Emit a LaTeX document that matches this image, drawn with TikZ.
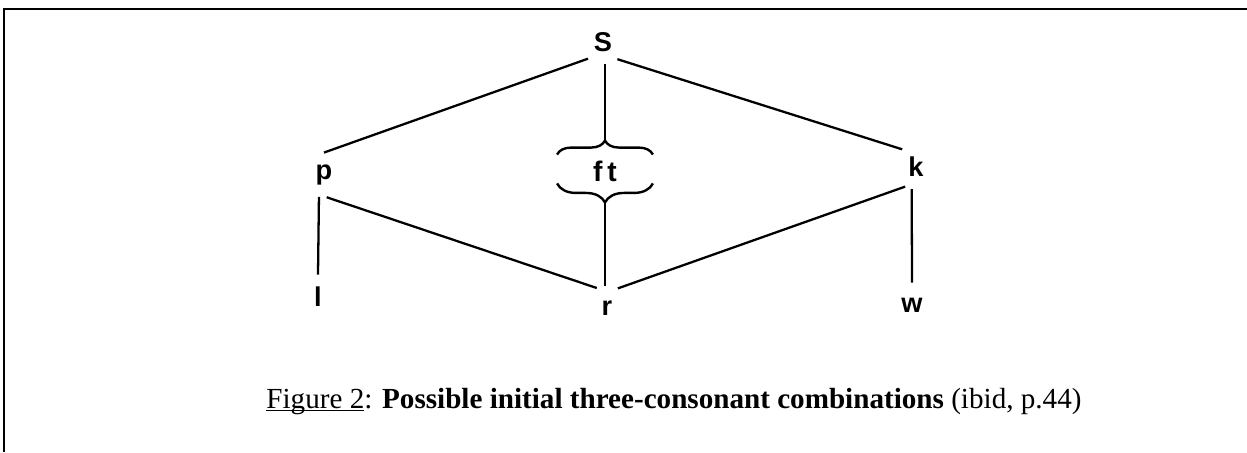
\documentclass[tikz,border=0pt]{standalone}
\usepackage{fontspec}
\setmainfont{Liberation Serif}
\setsansfont{Liberation Sans}
\usetikzlibrary{calc, decorations.pathreplacing}
% underline that sits close to the baseline
\newcommand{\capul}[1]{\setbox0\hbox{#1}\rlap{\rule[-1.6pt]{\wd0}{0.55pt}}#1}

\begin{document}
\begin{tikzpicture}[
    x=0.46pt, y=-0.46pt,
    cons/.style={circle, minimum size=20.24pt, inner sep=0pt,
                 font=\sffamily\bfseries\fontsize{12.5}{12}\selectfont},
    link/.style={line width=1.05pt},
    ftbox/.style={minimum width=43.7pt, minimum height=28.06pt, inner sep=0pt,
                  font=\sffamily\bfseries\fontsize{13}{12}\selectfont},
    cbrace/.style={decorate, decoration={brace, amplitude=#1}, line width=1.1pt},
    frame/.style={line width=0.95pt},
    caption/.style={font=\fontsize{13.4}{15}\selectfont, anchor=base, inner sep=0pt},
]
\useasboundingbox (0,0) rectangle (1247,452);

% --- Frame (only left and top edges show) ---
\draw[frame] (4,452) -- (4,9) -- (1247,9);

% --- Consonants ---
\node[cons] (S) at (603,42) {S};
\node[cons] (p) at (324,175) {p};
\node[cons] (k) at (916,167) {k};
\node[ftbox] (ft) at (605,171.5) {f\,t};
\node[cons] (r) at (607,308) {r};
\node[cons] (l) at (318,297) {l};
\node[cons] (w) at (912,305) {w};

% --- Braces round f t ---
\draw[cbrace=6.44pt] ($(ft.north west)+(0,14)$) -- ($(ft.north east)+(0,14)$);
\draw[cbrace=8.74pt] ($(ft.south east)+(0,-19)$) -- ($(ft.south west)+(0,-19)$);

% --- Links ---
\draw[link] (S.228) -- (p.90);
\draw[link] (S.310) -- (k.128);
\draw[link] (ft.north |- S.south) -- (ft.north);
\draw[link] (ft.south) -- (ft.south |- r.north);
\draw[link] (p.277) -- (r.117);
\draw[link] (k.241) -- (r.61);
\draw[link] (p.257) -- (l.north);
\draw[link] (k.259) -- (w.north);

% --- Caption ---
\node[caption] (cap) at (674,408) {\capul{Figure 2}: \textbf{Possible initial three-consonant combinations} (ibid, p.44)};

\end{tikzpicture}
\end{document}
